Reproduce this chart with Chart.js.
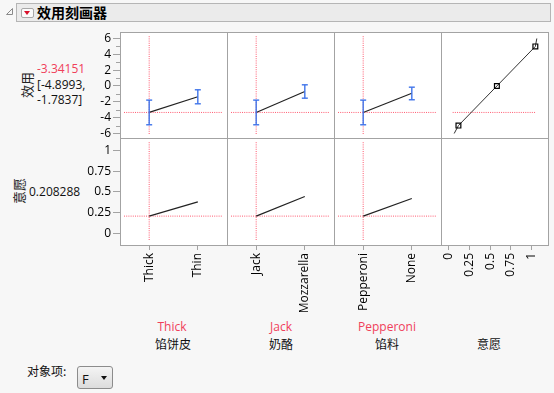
<!DOCTYPE html>
<html>
<head>
<meta charset="utf-8">
<script src="https://cdn.jsdelivr.net/npm/chart.js@4.4.1/dist/chart.umd.min.js"></script>
<style>
body{margin:0;background:#f7f7f7;font-family:"Open Sans","Noto Sans CJK SC",sans-serif;color:#111;}
#wrap{position:relative;width:554px;height:393px;overflow:hidden;}
#wrap canvas{position:absolute;}
.t{position:absolute;white-space:nowrap;font-size:12px;line-height:1;transform:translate(-50%,-50%);}
.l{position:absolute;white-space:nowrap;font-size:12px;line-height:1;transform:translateY(-50%);}
.v{position:absolute;white-space:nowrap;font-size:13px;line-height:1;font-family:"Noto Sans CJK SC",sans-serif;color:#222;transform:translate(-50%,-50%) rotate(-90deg);}
.red{color:#f0405a;}
.cjk{font-family:"Noto Sans CJK SC",sans-serif;}
#head{position:absolute;left:16px;top:3px;width:533px;height:17px;border:1px solid #b5b5b5;background:#ebebeb;}
#btn{position:absolute;left:21px;top:8px;width:11px;height:8px;border:1px solid #a8a8a8;border-radius:2px;background:#fbfbfb;}
#btn:after{content:"";position:absolute;left:2px;top:2px;border-left:3.5px solid transparent;border-right:3.5px solid transparent;border-top:4px solid #d8102a;}
#title{position:absolute;left:37px;top:12px;transform:translateY(-50%);font:bold 14px "Noto Sans CJK SC",sans-serif;color:#000;}
#combo{position:absolute;left:77px;top:366px;width:34px;height:21px;border:1px solid #8c8c8c;border-radius:3px;background:linear-gradient(#f4f4f4,#dcdcdc);}
#combo span{position:absolute;left:4px;top:3px;font-size:13px;}
#combo:after{content:"";position:absolute;left:23px;top:9px;border-left:3px solid transparent;border-right:3px solid transparent;border-top:4px solid #111;}
</style>
</head>
<body>
<div id="wrap">
  <svg style="position:absolute;left:0;top:0" width="20" height="20"><polygon points="12.5,8.5 12.5,14.5 6.5,14.5" fill="none" stroke="#8a8a8a" stroke-width="1"/></svg>
  <div id="head"></div>
  <div id="btn"></div>
  <div id="title">效用刻画器</div>

  <div class="v" style="left:26px;top:85px">效用</div>
  <div class="l red" style="left:37px;top:69px">-3.34151</div>
  <div class="l" style="left:37px;top:85px">[-4.8993,</div>
  <div class="l" style="left:37px;top:100px">-1.7837]</div>

  <div class="v" style="left:18px;top:191px">意愿</div>
  <div class="l" style="left:29px;top:192px">0.208288</div>

  <div class="t red" style="left:172px;top:327px">Thick</div>
  <div class="t cjk" style="left:173px;top:344px">馅饼皮</div>
  <div class="t red" style="left:281px;top:327px">Jack</div>
  <div class="t cjk" style="left:281px;top:344px">奶酪</div>
  <div class="t red" style="left:387px;top:327px">Pepperoni</div>
  <div class="t cjk" style="left:387px;top:344px">馅料</div>
  <div class="t cjk" style="left:489px;top:344px">意愿</div>

  <div class="l cjk" style="left:27px;top:371px">对象项:</div>
  <div id="combo"><span>F</span></div>
</div>
<script>
/* DATA */
const crust = ['Thick', 'Thin'];
const cheese = ['Jack', 'Mozzarella'];
const topping = ['Pepperoni', 'None'];

const crustUtil = [-3.34151, -1.36];
const crustLo = [-4.8993, -2.25];
const crustHi = [-1.7837, -0.48];
const cheeseUtil = [-3.34151, -0.69];
const cheeseLo = [-4.8993, -1.54];
const cheeseHi = [-1.7837, 0.15];
const toppingUtil = [-3.34151, -0.91];
const toppingLo = [-4.8993, -1.74];
const toppingHi = [-1.7837, -0.15];

const crustDesire = [0.208288, 0.38];
const cheeseDesire = [0.208288, 0.445];
const toppingDesire = [0.208288, 0.42];

// desirability function (desirability on x, utility on y)
const dfDesire = [-0.035, 0.0183, 0.5, 0.9817, 1.0];
const dfUtil = [-6, -5, 0, 5, 6];

const curUtil = -3.34151;
const curDesire = 0.208288;

const utilTicks = [-6, -4, -2, 0, 2, 4, 6];
const utilMinor = [-5, -3, -1, 1, 3, 5];
const desireTicks = [0, 0.25, 0.5, 0.75, 1];

/* LAYOUT / STYLE */
const RED = '#ff5a70', BLUE = '#3f74ea', FRAME = '#a3a3a3';
const COLX = [120, 227, 334, 441, 548];
const ROWY = [32, 138, 245];
const U_MIN = -6.57, U_MAX = 6.82;
const D_MIN = -0.14, D_MAX = 1.15;
const F_MIN = -0.6, F_MAX = 1.6;
const tickFont = {family: '"Open Sans", sans-serif', size: 12, lineHeight: 1};
const wrap = document.getElementById('wrap');

const cellFrame = {
  id: 'cellFrame',
  beforeDraw(c) {
    const a = c.chartArea, x = c.ctx;
    x.save();
    x.fillStyle = '#fff';
    x.fillRect(a.left, a.top, a.right - a.left, a.bottom - a.top);
    x.restore();
  },
  afterDraw(c) {
    const a = c.chartArea, x = c.ctx;
    const o = c.options.plugins.cellFrame || {};
    x.save();
    x.strokeStyle = FRAME;
    x.lineWidth = 1;
    x.strokeRect(a.left + 0.5, a.top + 0.5, a.right - a.left, a.bottom - a.top);
    if (o.minor) {
      const s = c.scales.y;
      o.minor.forEach(v => {
        const y = Math.round(s.getPixelForValue(v)) + 0.5;
        x.beginPath(); x.moveTo(a.left - 4, y); x.lineTo(a.left, y); x.stroke();
      });
    }
    x.restore();
  }
};

function zeroPad(s) { s.paddingLeft = s.paddingRight = s.paddingTop = s.paddingBottom = 0; }

function xAxis(min, max, ticks, labels, show) {
  return {
    type: 'linear', min, max, display: show,
    afterBuildTicks: s => { s.ticks = ticks.map(v => ({value: v})); },
    afterFit: s => { if (show) s.height = 100; zeroPad(s); },
    grid: {drawOnChartArea: false, tickLength: 5, tickColor: FRAME},
    border: {display: false},
    ticks: {minRotation: 90, maxRotation: 90, padding: 3, autoSkip: false, color: '#000', font: tickFont,
      callback: (v, i) => labels ? labels[i] : String(v)}
  };
}

function yAxis(min, max, ticks, show) {
  return {
    type: 'linear', min, max, display: show,
    afterBuildTicks: s => { s.ticks = ticks.map(v => ({value: v})); },
    afterFit: s => { if (show) s.width = 45; zeroPad(s); },
    grid: {drawOnChartArea: false, tickLength: 7, tickColor: FRAME},
    border: {display: false},
    ticks: {padding: 2, autoSkip: false, color: '#000', font: tickFont, callback: v => String(v)}
  };
}

function dotted(pts) {
  return {data: pts, borderColor: RED, borderWidth: 1, borderDash: [1, 1.2], pointRadius: 0};
}
function solid(xs, ys, extra) {
  return Object.assign({data: xs.map((v, i) => ({x: v, y: ys[i]})), borderColor: '#222', borderWidth: 1.2, pointRadius: 0}, extra || {});
}
function errBar(i, lo, hi) {
  return {data: [{x: i, y: lo[i]}, {x: i, y: hi[i]}], borderColor: BLUE, borderWidth: 1.4,
    pointStyle: 'line', pointRadius: 3, pointBorderWidth: 1.4, pointBorderColor: BLUE};
}

function cell(left, top, w, h, pad, scales, datasets, frameOpts) {
  const cv = document.createElement('canvas');
  cv.width = w; cv.height = h;
  cv.style.left = left + 'px'; cv.style.top = top + 'px';
  wrap.appendChild(cv);
  return new Chart(cv, {
    type: 'line',
    data: {datasets},
    options: {
      responsive: false, animation: false,
      layout: {padding: pad, autoPadding: false},
      plugins: {legend: {display: false}, tooltip: {enabled: false}, cellFrame: frameOpts || {}},
      scales
    },
    plugins: [cellFrame]
  });
}

// reference line extents, a few px inside each cell
const uppx = 106 / (U_MAX - U_MIN), dppx = 107 / (D_MAX - D_MIN), fppx = 107 / (F_MAX - F_MIN);
function topFactor(util, lo, hi) {
  return [
    errBar(0, lo, hi), errBar(1, lo, hi),
    solid([0, 1], util),
    dotted([{x: 0, y: U_MIN + 4 / uppx}, {x: 0, y: U_MAX - 3.5 / uppx}]),
    dotted([{x: F_MIN + 4 / fppx, y: curUtil}, {x: F_MAX - 4 / fppx, y: curUtil}])
  ];
}
function botFactor(des) {
  return [
    solid([0, 1], des),
    dotted([{x: 0, y: D_MIN + 5 / dppx}, {x: 0, y: D_MAX - 4 / dppx}]),
    dotted([{x: F_MIN + 4 / fppx, y: curDesire}, {x: F_MAX - 4 / fppx, y: curDesire}])
  ];
}

const factors = [
  {names: crust, util: crustUtil, lo: crustLo, hi: crustHi, des: crustDesire},
  {names: cheese, util: cheeseUtil, lo: cheeseLo, hi: cheeseHi, des: cheeseDesire},
  {names: topping, util: toppingUtil, lo: toppingLo, hi: toppingHi, des: toppingDesire}
];

factors.forEach((f, i) => {
  const first = i === 0;
  const left = first ? COLX[0] - 45 : COLX[i];
  const w = (first ? 45 : 0) + (COLX[i + 1] - COLX[i]) + 1;
  // utility row
  cell(left, ROWY[0] - 8, w, 106 + 16, {top: 8, bottom: 8, right: 1, left: 0},
    {x: xAxis(F_MIN, F_MAX, [0, 1], f.names, false), y: yAxis(U_MIN, U_MAX, utilTicks, first)},
    topFactor(f.util, f.lo, f.hi), first ? {minor: utilMinor} : {});
  // desirability row
  cell(left, ROWY[1] - 8, w, 8 + 107 + 100, {top: 8, bottom: 0, right: 1, left: 0},
    {x: xAxis(F_MIN, F_MAX, [0, 1], f.names, true), y: yAxis(D_MIN, D_MAX, desireTicks, first)},
    botFactor(f.des));
});

// desirability function cell
cell(COLX[3], ROWY[0] - 8, 108, 106 + 16, {top: 8, bottom: 8, right: 1, left: 0},
  {x: xAxis(-0.2, 1.14, [0, 1], null, false), y: yAxis(U_MIN, U_MAX, utilTicks, false)},
  [
    solid(dfDesire, dfUtil, {borderColor: '#333', borderWidth: 1,
      pointStyle: 'rect', pointRadius: [0, 3.4, 3.4, 3.4, 0], pointBorderWidth: 1.2,
      pointBorderColor: '#000', pointBackgroundColor: 'rgba(0,0,0,0)'}),
    dotted([{x: -0.054, y: curUtil}, {x: 0.986, y: curUtil}])
  ]);

// empty cell holding the desirability axis
cell(COLX[3], ROWY[1] - 8, 108, 8 + 107 + 100, {top: 8, bottom: 0, right: 1, left: 0},
  {x: xAxis(-0.093, 1.196, desireTicks, null, true), y: yAxis(D_MIN, D_MAX, desireTicks, false)},
  []);
</script>
</body>
</html>
